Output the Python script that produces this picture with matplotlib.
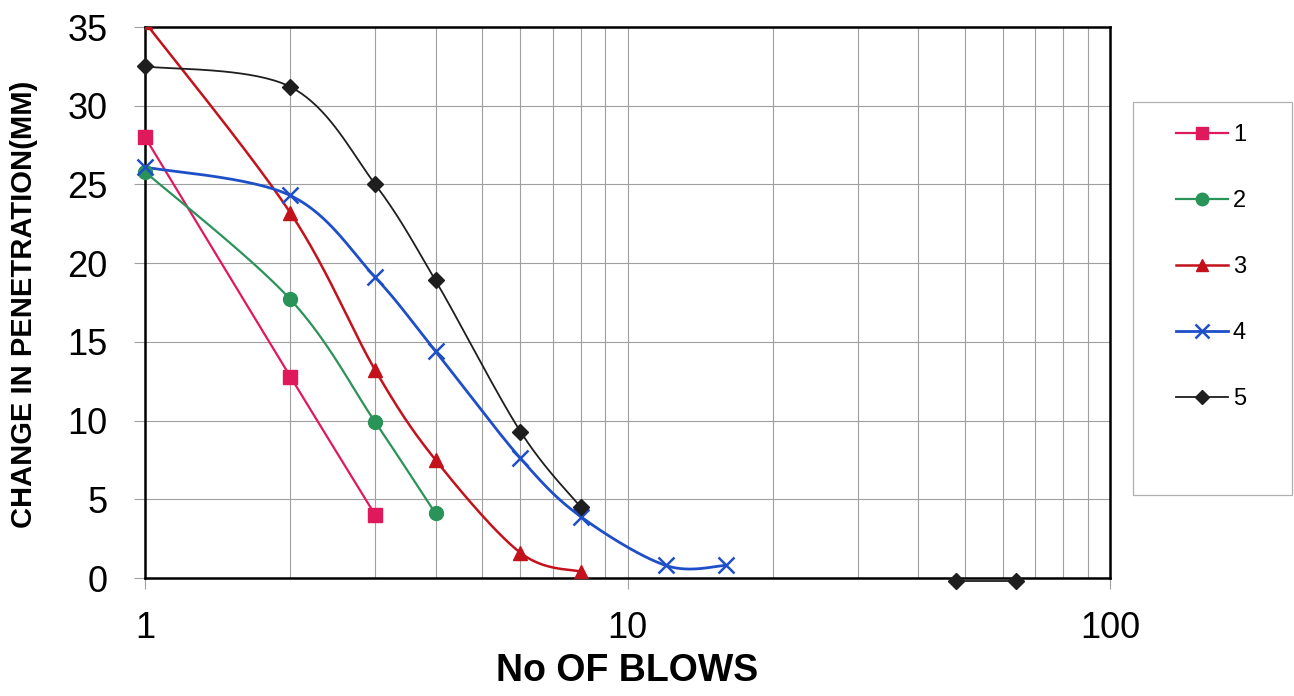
import numpy as np
import matplotlib
matplotlib.use("Agg")
import matplotlib.pyplot as plt
from matplotlib.patches import Rectangle

plt.rcParams['font.family'] = ['Liberation Sans', 'DejaVu Sans']

# --- data (blows vs change in penetration, mm) ---
blows_1 = [1, 2, 3]
pen_1 = [28.0, 12.8, 4.0]
blows_2 = [1, 2, 3, 4]
pen_2 = [25.8, 17.7, 9.9, 4.1]
blows_3 = [1, 2, 3, 4, 6, 8]
pen_3 = [35.3, 23.2, 13.2, 7.5, 1.6, 0.4]   # first point just off the top
blows_4 = [1, 2, 3, 4, 6, 8, 12, 16]
pen_4 = [26.1, 24.3, 19.1, 14.4, 7.6, 3.9, 0.8, 0.8]
blows_5 = [1, 2, 3, 4, 6, 8]
pen_5 = [32.5, 31.2, 25.0, 18.9, 9.3, 4.5]
blows_5_tail = [48, 64]
pen_5_tail = [-0.2, -0.2]

labels = ["1", "2", "3", "4", "5"]
colors = ["#E0185C", "#2A9358", "#C3121C", "#1F4FC8", "#1E1E1E"]
markers = ["s", "o", "^", "x", "D"]


def smooth(xs, ys, n=40):
    """Excel-like smoothed line: Catmull-Rom Bezier in log-x space."""
    u = np.log10(np.asarray(xs, float))
    v = np.asarray(ys, float)
    if len(u) < 3:
        return np.asarray(xs, float), v
    P = np.column_stack([u, v])
    P = np.vstack([P[0], P, P[-1]])
    out = []
    t = np.linspace(0, 1, n)[:, None]
    for i in range(1, len(P) - 2):
        p0, p1, p2, p3 = P[i - 1], P[i], P[i + 1], P[i + 2]
        c1 = p1 + (p2 - p0) / 6.0
        c2 = p2 - (p3 - p1) / 6.0
        seg = ((1 - t) ** 3 * p1 + 3 * (1 - t) ** 2 * t * c1
               + 3 * (1 - t) * t ** 2 * c2 + t ** 3 * p2)
        out.append(seg if i == 1 else seg[1:])
    out = np.vstack(out)
    return 10 ** out[:, 0], out[:, 1]


fig = plt.figure(figsize=(12.94, 6.96), dpi=100)
ax = fig.add_axes([0.1121, 0.1695, 0.7457, 0.7917])

series = [(blows_1, pen_1, 1.6), (blows_2, pen_2, 1.6), (blows_3, pen_3, 1.8),
          (blows_4, pen_4, 2.0), (blows_5, pen_5, 1.3)]
msizes = [10, 10, 10, 11, 8]
handles = []
for k, ((bx, py, lw), lab, c, m, ms) in enumerate(zip(series, labels, colors,
                                                     markers, msizes)):
    sx, sy = smooth(bx, py)
    ax.plot(sx, sy, color=c, lw=lw, zorder=3)
    mew = 1.8 if m == "x" else 1.0
    ax.plot(bx, py, ls="none", marker=m, ms=ms, color=c, mec=c, mew=mew,
            zorder=4, clip_on=(k == 2))
    h, = ax.plot([], [], color=c, lw=lw, marker=m, ms=ms - 1, mec=c, mew=mew)
    handles.append(h)

# second, detached piece of series 5 sitting on the x axis
ax.plot(blows_5_tail, pen_5_tail, color=colors[4], lw=1.3, marker="D", ms=8,
        zorder=4, clip_on=False)

ax.set_xscale("log")
ax.set_xlim(1, 100)
ax.set_ylim(0, 35)
ax.set_yticks(np.arange(0, 36, 5))
ax.set_xticks([1, 10, 100])
ax.set_xticklabels(["1", "10", "100"])
ax.xaxis.set_minor_formatter(matplotlib.ticker.NullFormatter())

ax.grid(True, which="both", color="#a0a0a0", lw=0.8, zorder=0)
ax.tick_params(axis="both", which="major", labelsize=26, length=8,
               color="#a0a0a0", width=0.8)
ax.tick_params(axis="y", pad=19)
ax.tick_params(axis="x", pad=16)
ax.tick_params(axis="x", which="minor", length=0)
for s in ax.spines.values():
    s.set_linewidth(1.8)
    s.set_color("black")

ax.set_ylabel("CHANGE IN PENETRATION(MM)", fontsize=21, fontweight="bold",
              va="center")
ax.yaxis.set_label_coords(-0.125, 0.496)
ax.set_xlabel("No OF BLOWS", fontsize=27, fontweight="bold", va="center")
ax.xaxis.set_label_coords(0.5, -0.169)

# legend box drawn separately so its size matches the original
fig.patches.append(Rectangle((0.8756, 0.2888), 0.1229, 0.5647,
                             transform=fig.transFigure, fill=False,
                             edgecolor="#b0b0b0", lw=0.9))
fig.legend(handles=handles, labels=labels, loc="upper left",
           bbox_to_anchor=(0.9088, 0.8218), fontsize=17,
           handlelength=2.2, labelspacing=1.865, handletextpad=0.21,
           borderpad=0, borderaxespad=0, frameon=False)

fig.savefig("out.png", dpi=100)
